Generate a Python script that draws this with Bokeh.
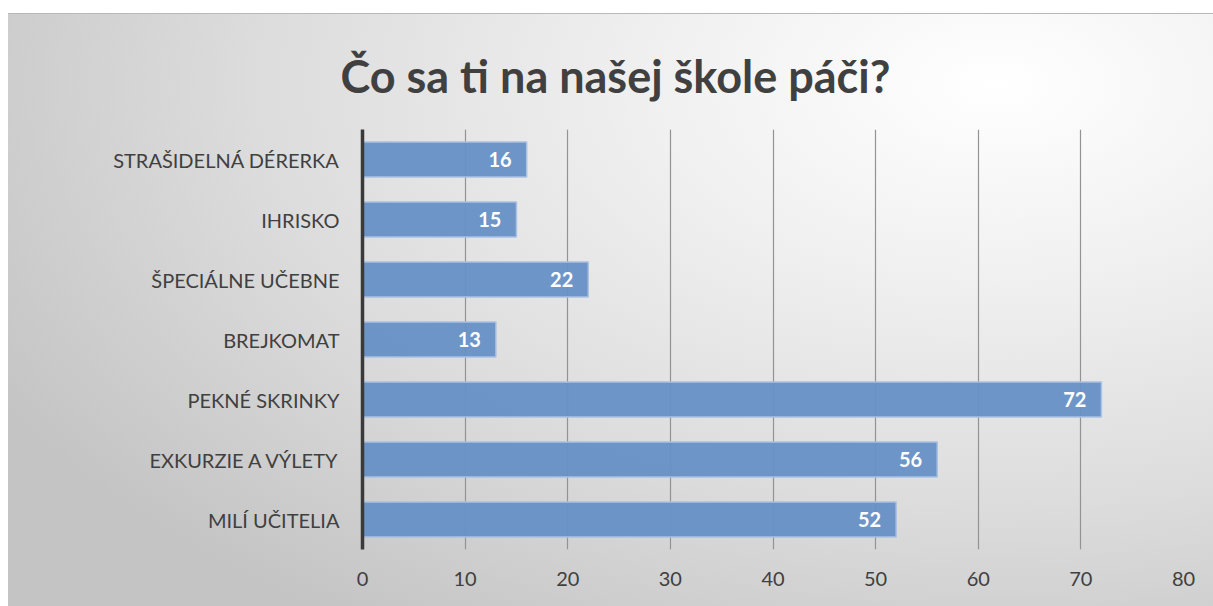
from bokeh.plotting import figure
from bokeh.models import ColumnDataSource, FactorRange, Range1d, FixedTicker, InlineStyleSheet
from bokeh.core.properties import value
from bokeh.embed import file_html
from bokeh.resources import INLINE

title_text = "Čo sa ti na našej škole páči?"
categories = ["STRAŠIDELNÁ DÉRERKA", "IHRISKO", "ŠPECIÁLNE UČEBNE", "BREJKOMAT",
              "PEKNÉ SKRINKY", "EXKURZIE A VÝLETY", "MILÍ UČITELIA"]
values = [16, 15, 22, 13, 72, 56, 52]
x_ticks = [0, 10, 20, 30, 40, 50, 60, 70, 80]

FONT = "Lato"
TXT = "#404040"

src = ColumnDataSource(dict(cat=categories, val=values, lab=[str(v) for v in values]))

css = InlineStyleSheet(css="""
:host {
  background: radial-gradient(ellipse 95% 110% at 82% 12%, #ffffff 0%, #f0f0f0 30%, #dcdcdc 65%, #c4c4c4 100%);
  border-top: 1px solid #b8b8b8;
}
""")

p = figure(width=1205, height=593, output_backend="svg", toolbar_location=None,
           y_range=FactorRange(*reversed(categories), range_padding=0),
           x_range=Range1d(0, 80),
           min_border_left=354, min_border_right=30, min_border_top=115, min_border_bottom=58,
           background_fill_color=None, border_fill_color=None, outline_line_color=None,
           stylesheets=[css])
p.margin = (13, 0, 0, 8)

p.title.text = title_text
p.title.align = "left"
p.title.text_font = FONT
p.title.text_font_style = "bold"
p.title.text_font_size = "45px"
p.title.text_color = TXT
p.title.offset = -22
p.title.standoff = 53

p.hbar(y="cat", right="val", left=0, height=0.58, source=src,
       fill_color="#6690c6", fill_alpha=0.95, line_color="#a9c1e2", line_width=1.5)

p.text(x="val", y="cat", text="lab", source=src, x_offset=-15,
       text_align="right", text_baseline="middle", text_color="white",
       text_font=value(FONT), text_font_style="bold", text_font_size="20px")

p.xaxis.ticker = FixedTicker(ticks=x_ticks)
p.xaxis.axis_line_color = None
p.xaxis.major_tick_line_color = None
p.xaxis.minor_tick_line_color = None
p.xaxis.major_label_standoff = 16
p.xaxis.major_label_text_font = FONT
p.xaxis.major_label_text_font_size = "20px"
p.xaxis.major_label_text_color = TXT

p.yaxis.axis_line_color = "#3a3a3a"
p.yaxis.axis_line_width = 3.5
p.yaxis.major_tick_line_color = None
p.yaxis.minor_tick_line_color = None
p.yaxis.major_label_standoff = 17
p.yaxis.major_label_text_font = FONT
p.yaxis.major_label_text_font_size = "20px"
p.yaxis.major_label_text_color = TXT

p.ygrid.grid_line_color = None
p.xgrid.ticker = FixedTicker(ticks=x_ticks)
p.xgrid.grid_line_color = "#939393"
p.xgrid.grid_line_width = 1.2

open("out.html", "w").write(file_html(p, INLINE))
